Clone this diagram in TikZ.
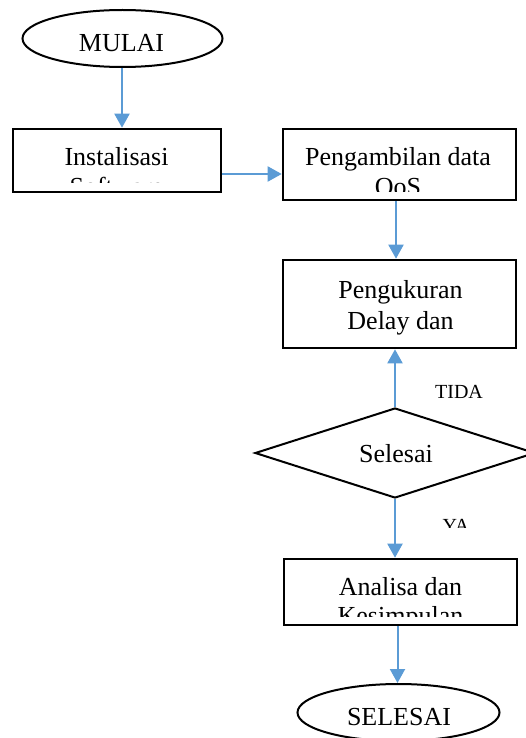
\documentclass[tikz,border=0pt]{standalone}
\usepackage{fontspec}
\setmainfont{Liberation Serif}
\usetikzlibrary{shapes.geometric,arrows.meta}
\definecolor{arrblue}{RGB}{91,155,213}
\tikzset{
  boxst/.style={draw=black, line width=2.6pt, rectangle, inner sep=0pt},
  ovalst/.style={draw=black, line width=2pt, ellipse, inner sep=0pt},
  decst/.style={draw=black, line width=2pt, diamond, inner sep=0pt},
  arr/.style={draw=arrblue, line width=2pt, -{Triangle[width=15pt,length=14pt]}},
  txt/.style={anchor=base, inner sep=0pt, font=\fontsize{26}{30}\selectfont},
  lbl/.style={anchor=base, inner sep=0pt, font=\fontsize{20}{24}\selectfont}
}
\begin{document}
\begin{tikzpicture}[x=1pt,y=-1pt]
\useasboundingbox (0,0) rectangle (526,738);
\clip (0,0) rectangle (526,738);
% shapes
\node[ovalst, minimum width=200pt, minimum height=57pt] (mulai) at (122.5,38.5) {};
\node[boxst, minimum width=208pt, minimum height=63pt] (inst) at (117,160.5) {};
\node[boxst, minimum width=233pt, minimum height=71pt] (peng) at (399.5,164.5) {};
\node[boxst, minimum width=233pt, minimum height=88pt] (ukur) at (399.5,304) {};
\node[decst, minimum width=280pt, minimum height=90pt] (dec) at (395,453) {};
\node[boxst, minimum width=233pt, minimum height=66pt] (anal) at (400.5,592) {};
\node[ovalst, minimum width=202pt, minimum height=57pt] (sel) at (398.5,712.5) {};
% texts
\node[txt] (tmulai) at (121.5,52) {MULAI};
\node[txt] (tinst1) at (116.5,165) {Instalisasi};
\begin{scope}
  \clip (14,130) rectangle (220,182);
  \node[txt] (tinst2) at (116.5,195) {Software};
\end{scope}
\node[txt] (tpeng1) at (398,165) {Pengambilan data};
\begin{scope}
  \clip (284,130) rectangle (515,191);
  \node[txt] (tpeng2) at (398,195.5) {QoS};
\end{scope}
\node[txt] (tukur1) at (400.5,298) {Pengukuran};
\node[txt] (tukur2) at (400.5,329) {Delay dan};
\node[txt] (tdec) at (396,462) {Selesai};
\node[lbl] (ttida) at (459,398) {TIDA};
\begin{scope}
  \clip (430,500) rectangle (490,527);
  \node[lbl] (tya) at (456,532) {YA};
\end{scope}
\node[txt] (tanal1) at (400.5,595) {Analisa dan};
\begin{scope}
  \clip (285,560) rectangle (516,616);
  \node[txt] (tanal2) at (400.5,624.5) {Kesimpulan};
\end{scope}
\node[txt] (tsel) at (399,725) {SELESAI};
% connectors
\coordinate (ha) at (0,174);
\coordinate (xa) at (122,0);
\coordinate (xb) at (396,0);
\coordinate (xc) at (395,0);
\coordinate (xd) at (397.5,0);
\draw[arr] (mulai.south -| xa) -- (inst.north -| xa);
\draw[arr] (inst.east |- ha) -- (peng.west |- ha);
\draw[arr] (peng.south -| xb) -- (ukur.north -| xb);
\draw[arr] (dec.north) -- (ukur.south -| xc);
\draw[arr] (dec.south) -- (anal.north -| xc);
\draw[arr] (anal.south -| xd) -- (sel.north -| xd);
\end{tikzpicture}
\end{document}
